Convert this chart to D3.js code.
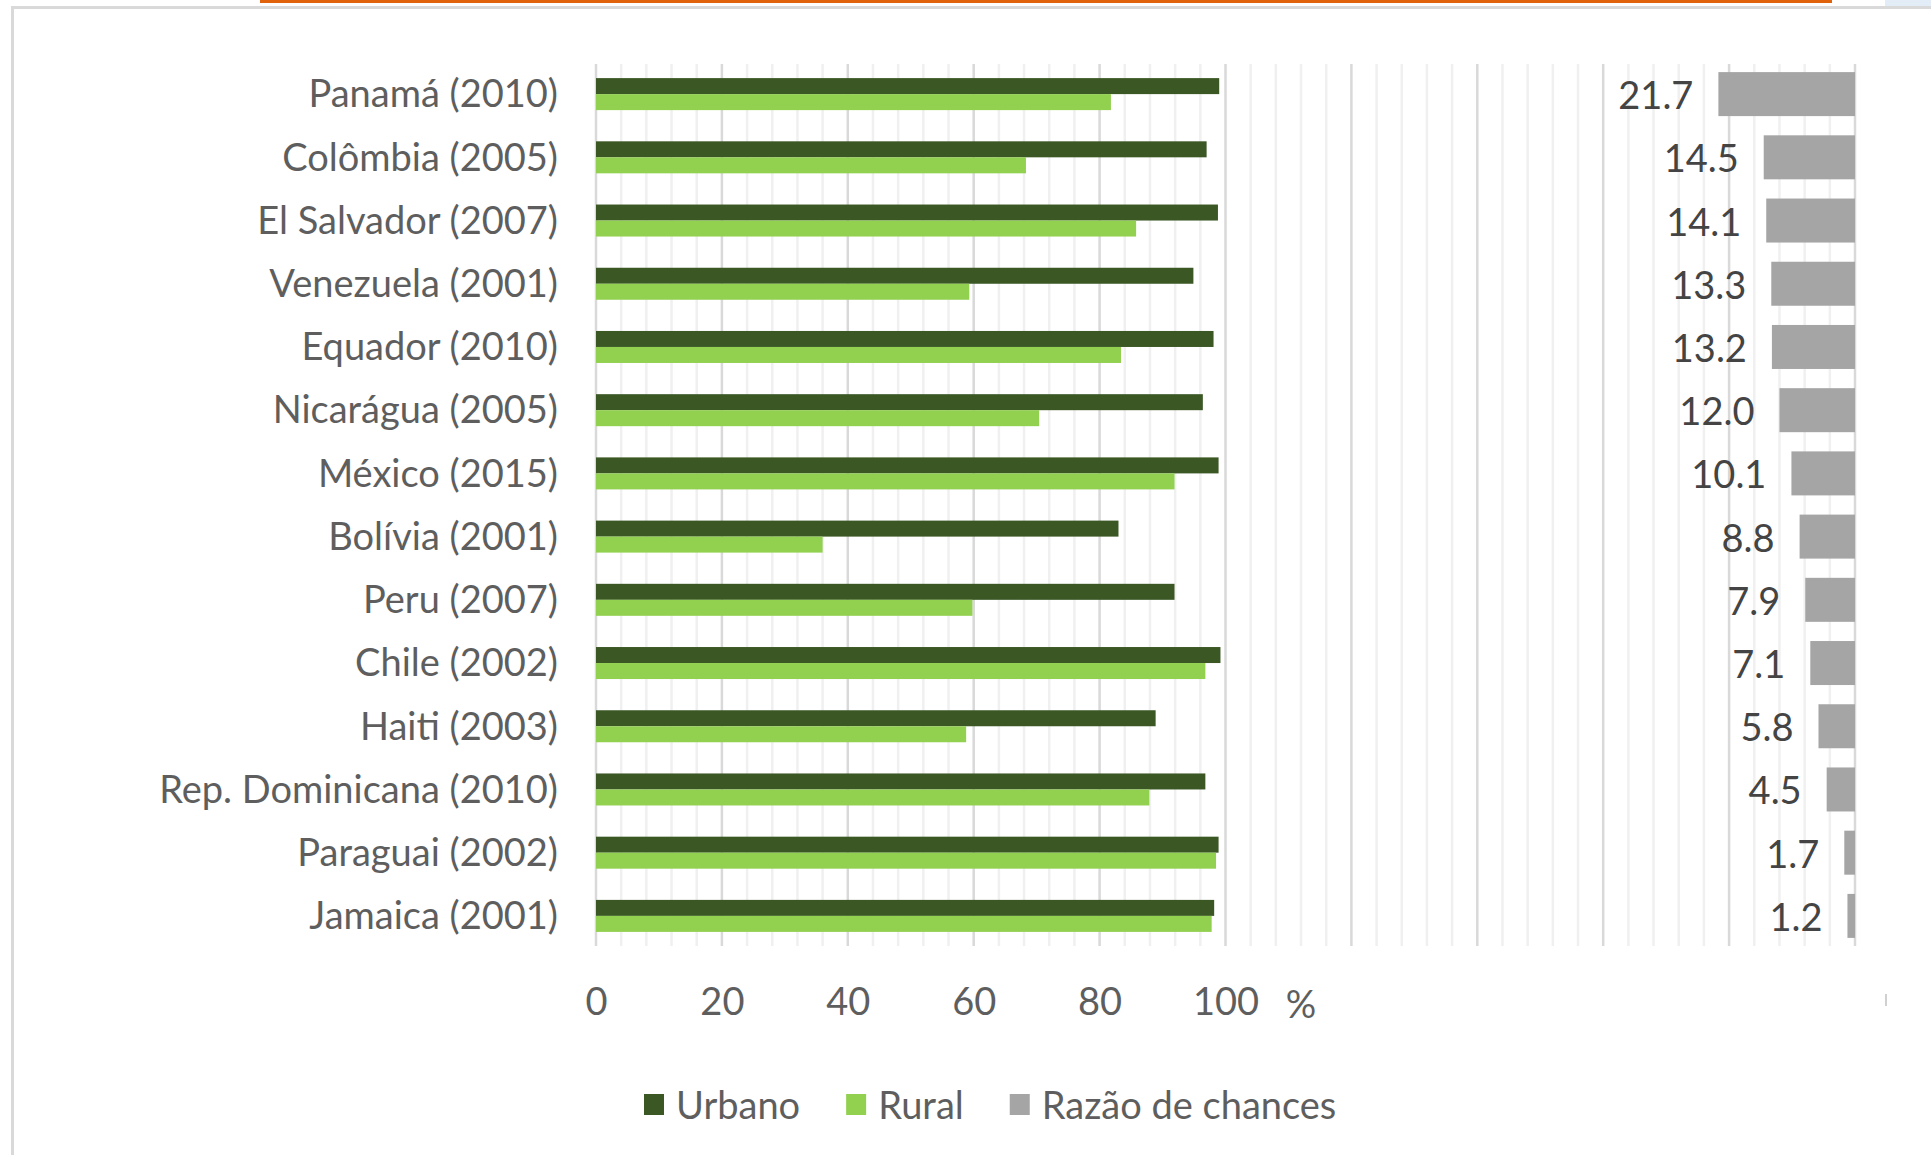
<!DOCTYPE html>
<html>
<head>
<meta charset="utf-8">
<script src="https://cdn.jsdelivr.net/npm/d3@7"></script>
<style>
  html, body { margin: 0; padding: 0; background: #ffffff; }
  svg { display: block; }
  text { font-family: Lato, "Open Sans", Roboto, sans-serif; }
</style>
</head>
<body>
<svg id="chart" width="1931" height="1155"></svg>
<script>
// ---------------- data ----------------
const categories = [
  "Panamá (2010)", "Colômbia (2005)", "El Salvador (2007)", "Venezuela (2001)",
  "Equador (2010)", "Nicarágua (2005)", "México (2015)", "Bolívia (2001)",
  "Peru (2007)", "Chile (2002)", "Haiti (2003)", "Rep. Dominicana (2010)",
  "Paraguai (2002)", "Jamaica (2001)"
];
const urbano = [99.0, 97.0, 98.8, 94.9, 98.1, 96.4, 98.9, 83.0, 91.9, 99.2, 88.9, 96.8, 98.9, 98.2];
const rural  = [81.8, 68.3, 85.8, 59.3, 83.4, 70.4, 91.9, 36.0, 59.8, 96.8, 58.8, 87.9, 98.5, 97.8];
const razaoChances = [21.7, 14.5, 14.1, 13.3, 13.2, 12.0, 10.1, 8.8, 7.9, 7.1, 5.8, 4.5, 1.7, 1.2];
const xTickLabels = [0, 20, 40, 60, 80, 100];
const axisUnit = "%";
const seriesNames = ["Urbano", "Rural", "Razão de chances"];

// ---------------- styles ----------------
const colors = { Urbano: "#3a5724", Rural: "#92d050", "Razão de chances": "#a5a5a5" };
const fontSize = 38;
const labelColor = "#5e5e5e";
const valueColor = "#444444";

const svg = d3.select("#chart");

// frame decorations
svg.append("rect").attr("x", 260).attr("y", 0).attr("width", 1572).attr("height", 3).attr("fill", "#e0620b");
svg.append("rect").attr("x", 1885).attr("y", 0).attr("width", 46).attr("height", 6).attr("fill", "#e3edf7");
svg.append("rect").attr("x", 11).attr("y", 6).attr("width", 1920).attr("height", 3).attr("fill", "#d9d9d9");
svg.append("rect").attr("x", 11).attr("y", 6).attr("width", 3).attr("height", 1149).attr("fill", "#d9d9d9");

// ---------------- scales ----------------
const plot = { left: 596, right: 1855, top: 64, bottom: 946 };
const x = d3.scaleLinear().domain([0, 200]).range([plot.left, plot.right]);
const y = d3.scaleBand().domain(categories).range([62.5, 947.5]).padding(0);
const barH = 16;
const grayH = 44;

// gridlines
const g = svg.append("g");
const minor = d3.range(0, 201, 4).filter(v => v % 20 !== 0);
const major = d3.range(0, 201, 20);
g.selectAll("line.minor").data(minor).join("line")
  .attr("class", "minor")
  .attr("x1", d => x(d)).attr("x2", d => x(d))
  .attr("y1", plot.top).attr("y2", plot.bottom)
  .attr("stroke", "#f0f0f0").attr("stroke-width", 2.5);
g.selectAll("line.major").data(major).join("line")
  .attr("class", "major")
  .attr("x1", d => x(d)).attr("x2", d => x(d))
  .attr("y1", plot.top).attr("y2", plot.bottom)
  .attr("stroke", "#d9d9d9").attr("stroke-width", 2.5);

// bars: urbano & rural
const rows = categories.map((c, i) => ({ c, u: urbano[i], r: rural[i], o: razaoChances[i] }));
const bars = svg.append("g");
bars.selectAll("rect.u").data(rows).join("rect")
  .attr("x", x(0)).attr("y", d => y(d.c) + y.bandwidth() / 2 - barH)
  .attr("width", d => x(d.u) - x(0)).attr("height", barH)
  .attr("fill", colors.Urbano);
bars.selectAll("rect.r").data(rows).join("rect")
  .attr("x", x(0)).attr("y", d => y(d.c) + y.bandwidth() / 2)
  .attr("width", d => x(d.r) - x(0)).attr("height", barH)
  .attr("fill", colors.Rural);

// odds ratio bars (drawn from right edge leftward, same scale)
const xMax = x.domain()[1];
bars.selectAll("rect.o").data(rows).join("rect")
  .attr("x", d => x(xMax - d.o)).attr("y", d => y(d.c) + y.bandwidth() / 2 - grayH / 2)
  .attr("width", d => x(xMax) - x(xMax - d.o)).attr("height", grayH)
  .attr("fill", colors["Razão de chances"]);
bars.selectAll("text.o").data(rows).join("text")
  .attr("x", d => x(xMax - d.o) - 25).attr("y", d => y(d.c) + y.bandwidth() / 2)
  .attr("text-anchor", "end").attr("dominant-baseline", "central")
  .attr("font-size", fontSize).attr("fill", valueColor)
  .text(d => d3.format(".1f")(d.o));

// category axis
const yAxis = svg.append("g").attr("transform", `translate(${plot.left - 38},0)`)
  .call(d3.axisLeft(y).tickSize(0).tickPadding(0));
yAxis.select(".domain").remove();
yAxis.selectAll("text").attr("font-size", fontSize).attr("fill", labelColor)
  .attr("font-family", "Lato, 'Open Sans', Roboto, sans-serif").attr("dy", "0.35em");

// value axis
const xAxis = svg.append("g").attr("transform", `translate(0,${plot.bottom})`)
  .call(d3.axisBottom(x).tickValues(xTickLabels).tickSize(0).tickPadding(42).tickFormat(d3.format("d")));
xAxis.select(".domain").remove();
xAxis.selectAll("text").attr("font-size", fontSize).attr("fill", labelColor)
  .attr("font-family", "Lato, 'Open Sans', Roboto, sans-serif");
svg.append("text").attr("x", x(112)).attr("y", 1003).attr("text-anchor", "middle")
  .attr("dominant-baseline", "central").attr("font-size", fontSize).attr("fill", labelColor)
  .text(axisUnit);
svg.append("line").attr("x1", 1886).attr("x2", 1886).attr("y1", 994).attr("y2", 1006)
  .attr("stroke", "#c0c0c0").attr("stroke-width", 1.5);

// legend
const legend = svg.append("g");
let lx = 644;
const ly = 1104;
seriesNames.forEach(name => {
  legend.append("rect").attr("x", lx).attr("y", ly - 10).attr("width", 20).attr("height", 21)
    .attr("fill", colors[name]);
  const t = legend.append("text").attr("x", lx + 32).attr("y", ly)
    .attr("dominant-baseline", "central").attr("font-size", fontSize).attr("fill", labelColor)
    .text(name);
  lx = lx + 32 + t.node().getComputedTextLength() + 46;
});
</script>
</body>
</html>
